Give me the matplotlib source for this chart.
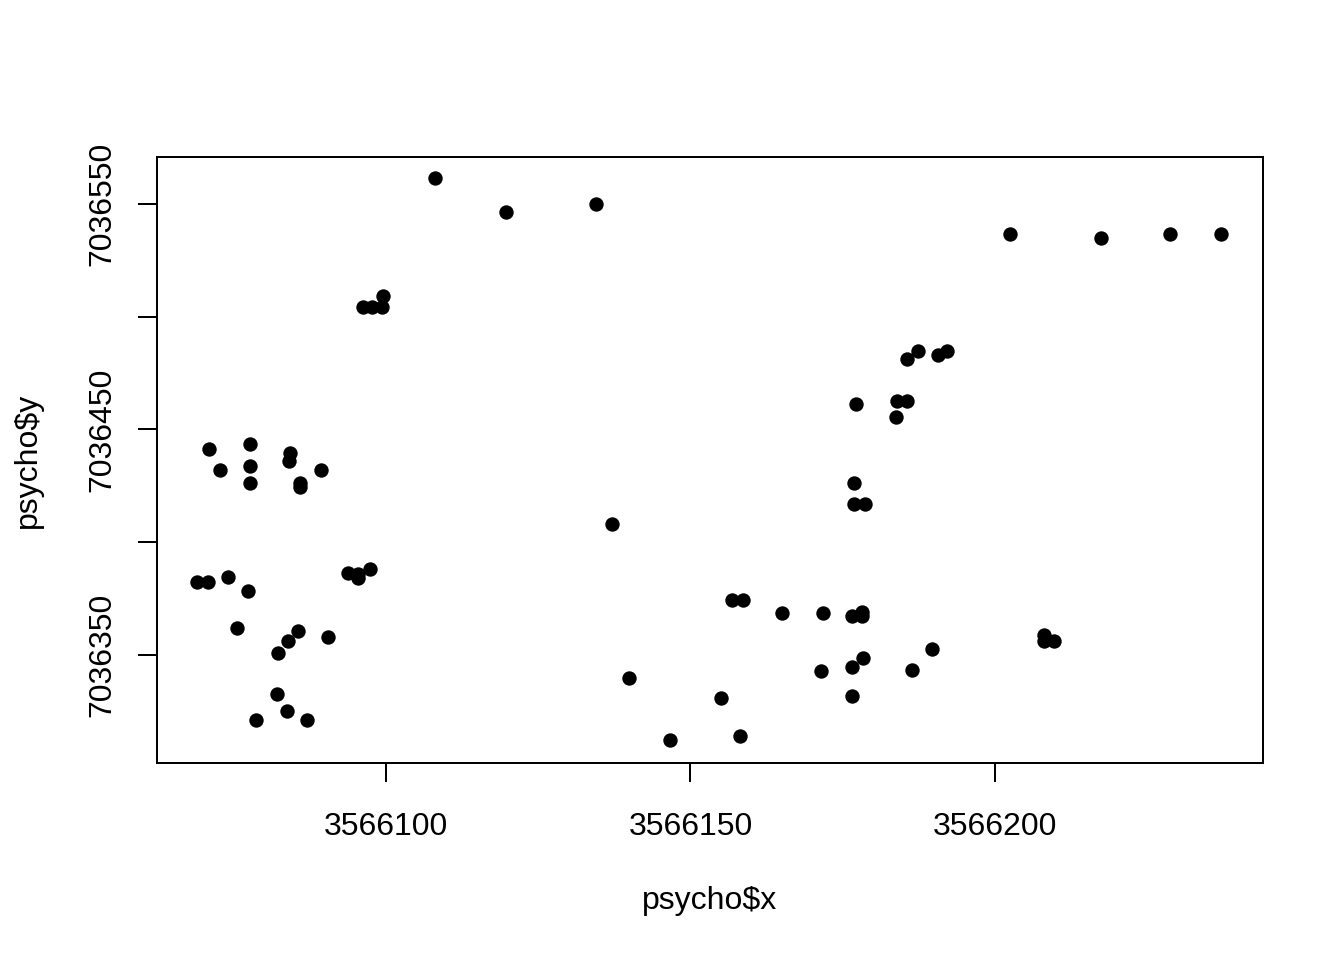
import matplotlib.pyplot as plt

plt.rcParams['font.family'] = ['Liberation Sans', 'DejaVu Sans']

# coordinates
psycho_x = [
    3566071.0, 3566072.7, 3566077.7, 3566077.7, 3566077.7, 3566084.2, 3566084.1,
    3566085.9, 3566085.9, 3566089.3, 3566068.9, 3566070.8, 3566074.0, 3566077.4,
    3566075.6, 3566085.5, 3566083.9, 3566082.2, 3566090.4, 3566082.1, 3566083.7,
    3566078.7, 3566087.0, 3566093.8, 3566095.4, 3566095.4, 3566097.4, 3566096.2,
    3566097.7, 3566099.3, 3566099.5, 3566156.8, 3566158.6, 3566165.1, 3566171.7,
    3566176.5, 3566178.2, 3566178.2, 3566178.3, 3566176.6, 3566171.5, 3566155.0,
    3566176.5, 3566185.5, 3566187.3, 3566190.6, 3566192.2, 3566177.1, 3566183.9,
    3566185.5, 3566183.7, 3566176.9, 3566176.9, 3566178.7, 3566208.0, 3566208.0,
    3566209.7, 3566108.0, 3566119.7, 3566134.5, 3566202.5, 3566217.4, 3566228.7,
    3566237.1, 3566137.1, 3566139.9, 3566146.6, 3566158.1, 3566186.4, 3566189.7,
]
psycho_y = [
    7036441.4, 7036432.0, 7036443.4, 7036433.9, 7036426.4, 7036439.6, 7036436.0,
    7036426.3, 7036424.5, 7036432.0, 7036382.5, 7036382.5, 7036384.5, 7036378.5,
    7036362.1, 7036360.6, 7036356.3, 7036351.0, 7036358.1, 7036332.6, 7036325.3,
    7036321.2, 7036321.2, 7036386.4, 7036385.9, 7036384.1, 7036388.1, 7036504.3,
    7036504.3, 7036504.3, 7036509.2, 7036374.4, 7036374.4, 7036368.8, 7036368.8,
    7036367.3, 7036369.1, 7036367.3, 7036348.8, 7036344.5, 7036342.9, 7036330.8,
    7036332.0, 7036481.1, 7036484.9, 7036483.0, 7036484.9, 7036461.2, 7036462.8,
    7036462.8, 7036455.7, 7036426.1, 7036417.0, 7036417.0, 7036358.9, 7036356.2,
    7036356.2, 7036561.5, 7036546.5, 7036550.0, 7036536.7, 7036534.9, 7036536.7,
    7036536.7, 7036408.1, 7036339.8, 7036312.3, 7036314.1, 7036343.3, 7036352.7,
]

x_ticks = [3566100, 3566150, 3566200]
y_ticks = [7036350, 7036400, 7036450, 7036500, 7036550]
y_tick_labels = ["7036350", "", "7036450", "", "7036550"]

fig = plt.figure(figsize=(7, 5), dpi=192)
ax = fig.add_axes([0.1168, 0.2052, 0.8229, 0.6313])

ax.plot(psycho_x, psycho_y, 'o', color='black', markersize=5.4, markeredgewidth=0)

ax.set_xlim(3566062.4, 3566244.0)
ax.set_ylim(7036302.1, 7036570.8)

ax.set_xticks(x_ticks)
ax.set_xticklabels([str(v) for v in x_ticks])
ax.set_yticks(y_ticks)
ax.set_yticklabels(y_tick_labels, rotation=90, va='center')
ax.tick_params(labelsize=12, length=7, width=0.75, direction='out')
ax.tick_params(axis='x', pad=11.5)
ax.tick_params(axis='y', pad=8)

for s in ax.spines.values():
    s.set_linewidth(0.75)

fig.text(710 / 1344, 1 - 901 / 960, "psycho$x", fontsize=12, ha='center', va='center')
fig.text(28 / 1344, 1 - 460 / 960, "psycho$y", fontsize=12, ha='center', va='center', rotation=90)

plt.savefig("out.png", dpi=192)
plt.close()
